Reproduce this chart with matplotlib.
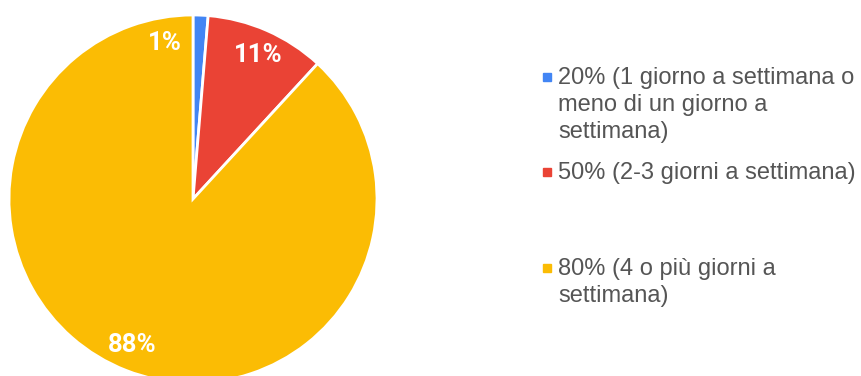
import numpy as np
import matplotlib.pyplot as plt

# risposte per fascia di presenza
categorie = [
    "20% (1 giorno a settimana o\nmeno di un giorno a\nsettimana)",
    "50% (2-3 giorni a settimana)",
    "80% (4 o più giorni a\nsettimana)",
]
risposte = [1, 8, 67]
colori = ["#4285f4", "#ea4335", "#fbbc04"]

W, H = 862, 376
fig = plt.figure(figsize=(W / 100, H / 100), dpi=100)

# cerchio: centro (193, 199) px, raggio 184 px
cx, cy, r = 193, 199, 184
ax = fig.add_axes([(cx - r) / W, (H - cy - r) / H, 2 * r / W, 2 * r / H])

wedges, _ = ax.pie(
    risposte, colors=colori, startangle=90, counterclock=False, radius=1,
    wedgeprops=dict(edgecolor="white", linewidth=2),
)
ax.set_xlim(-1, 1)
ax.set_ylim(-1, 1)
ax.set_aspect("equal")
ax.axis("off")

# etichette percentuali
tot = sum(risposte)
quote = np.array(risposte) / tot
cum = np.cumsum(quote) - quote / 2
spost = [-12.5, 0.6, 1.2]   # gradi, la fetta piccola ha l'etichetta spostata
for q, c, d in zip(quote, cum, spost):
    ang = np.deg2rad(90 - (c * 360 + d))
    ax.text(0.86 * np.cos(ang), 0.86 * np.sin(ang), f"{q * 100:.0f}%",
            ha="center", va="center", color="white", fontsize=18.5,
            fontweight="bold", family="Roboto")

# legenda a destra
y_voci = [77, 172, 268]
for lab, col, y in zip(categorie, colori, y_voci):
    fig.patches.append(plt.Rectangle((543 / W, 1 - (y + 4) / H), 8 / W, 8 / H,
                                     transform=fig.transFigure, color=col))
    fig.text(558 / W, 1 - (y - 10) / H, lab, ha="left", va="top",
             color="#555555", fontsize=17, family="Liberation Sans",
             linespacing=1.3)

fig.savefig("out.png", dpi=100)
